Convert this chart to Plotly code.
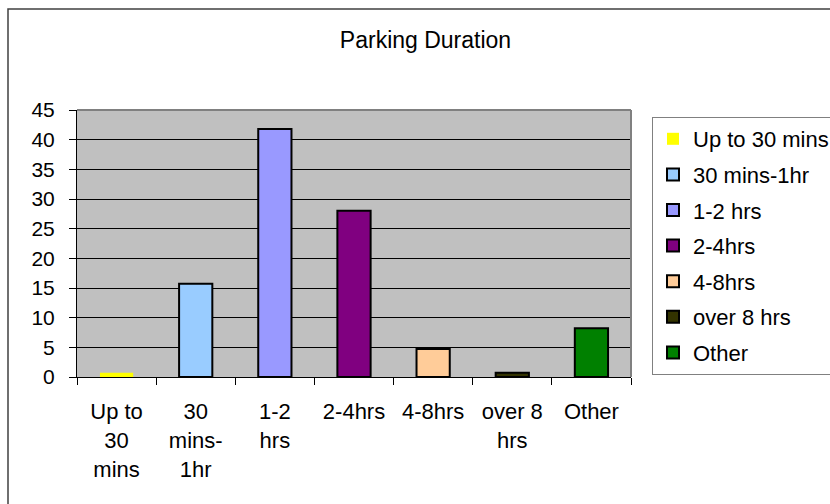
import plotly.graph_objects as go

# Survey results: how long people park
categories = ["Up to 30 mins", "30 mins-1hr", "1-2 hrs", "2-4hrs", "4-8hrs", "over 8 hrs", "Other"]
axis_labels = ["Up to<br>30<br>mins", "30<br>mins-<br>1hr", "1-2<br>hrs", "2-4hrs", "4-8hrs", "over 8<br>hrs", "Other"]
values = [0.7, 15.7, 41.8, 28.0, 4.7, 0.7, 8.2]
colors = ["#FFFF00", "#99CCFF", "#9999FF", "#800080", "#FFCC99", "#333300", "#008000"]
outline_widths = [0, 2, 2, 2, 2, 2, 2]
y_ticks = [0, 5, 10, 15, 20, 25, 30, 35, 40, 45]

FONT = "Liberation Sans, Arial, sans-serif"

W, H = 830, 504
L, R, T, B = 77, 199, 110, 127
pw, ph = W - L - R, H - T - B


def px_x(x):
    return (x - L) / pw


def px_y(y):
    return (H - B - y) / ph


fig = go.Figure()
for cat, lab, val, col, lw in zip(categories, axis_labels, values, colors, outline_widths):
    fig.add_trace(go.Bar(
        x=[lab], y=[val], name=cat, width=0.42, legendgroup=cat,
        marker=dict(color=col, line=dict(color="#000000", width=lw)),
    ))

fig.update_layout(
    width=W, height=H,
    margin=dict(l=L, r=R, t=T, b=B, autoexpand=False),
    paper_bgcolor="white",
    plot_bgcolor="#C0C0C0",
    barmode="overlay",
    font=dict(family=FONT, color="#000000", size=22),
    title=dict(
        text="Parking Duration", font=dict(size=23, family=FONT, color="#000000"),
        x=425.5 / W, xanchor="center", xref="container",
        y=1 - 40 / H, yanchor="middle", yref="container",
    ),
    legend=dict(
        x=px_x(652), xanchor="left", y=px_y(117), yanchor="top",
        bgcolor="white", bordercolor="#808080", borderwidth=1,
        font=dict(size=22, family=FONT),
        traceorder="grouped", tracegroupgap=4,
    ),
    xaxis=dict(
        type="category", categoryorder="array", categoryarray=axis_labels,
        showline=True, linecolor="#000000", linewidth=1,
        ticks="outside", tickson="boundaries", ticklen=7, tickcolor="#000000",
        showgrid=False, tickfont=dict(size=22), ticklabelstandoff=15,
    ),
    yaxis=dict(
        range=[0, 45], tickvals=y_ticks,
        showline=True, linecolor="#000000", linewidth=1,
        ticks="outside", ticklen=7, tickcolor="#000000",
        showgrid=True, gridcolor="#000000", gridwidth=1, zeroline=False,
        tickfont=dict(size=21), ticklabelstandoff=10,
    ),
    shapes=[
        # plot area frame on top and right
        dict(type="line", xref="paper", yref="paper", x0=0, x1=1, y0=1, y1=1,
             line=dict(color="#808080", width=2)),
        dict(type="line", xref="paper", yref="paper", x0=1, x1=1, y0=0, y1=1,
             line=dict(color="#808080", width=2)),
        # chart border
        dict(type="rect", xref="paper", yref="paper",
             x0=px_x(8), x1=px_x(840), y0=px_y(515), y1=px_y(9),
             line=dict(color="#404040", width=1.5), layer="below"),
    ],
)

fig.write_html("out.html")
